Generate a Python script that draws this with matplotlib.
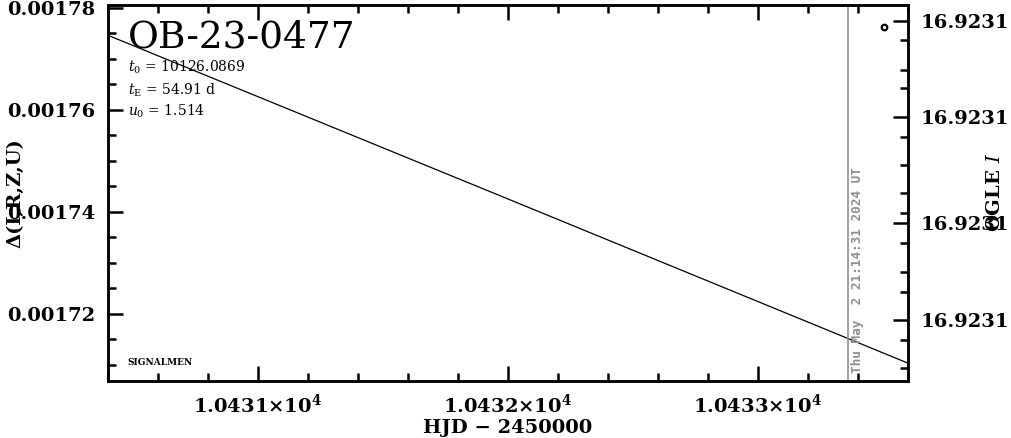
import matplotlib
matplotlib.use("Agg")
import matplotlib.pyplot as plt
from matplotlib.ticker import FixedLocator, FuncFormatter, MultipleLocator

# ---- data ----
model_hjd = [10430.4, 10432.0, 10433.6]
model_delta = [0.0017746, 0.0017425, 0.0017103]
ogle_hjd = [10433.506]
ogle_mag = [16.923056]
now_hjd = 10433.362
now_label = "Thu May  2 21:14:31 2024 UT"
event_name = "OB-23-0477"
t0_text = r"$t_0$ = 10126.0869"
tE_text = r"$t_{\rm E}$ = 54.91 d"
u0_text = r"$u_0$ = 1.514"
xlim = (10430.4, 10433.6)
ylim_left = (0.0017068, 0.0017806)
ylim_right = (16.923150, 16.923050)
right_major = [16.9230543, 16.9230798, 16.9231080, 16.9231338]
right_minor = [16.9230595, 16.9230675, 16.9230723, 16.9230852, 16.9230926,
               16.9231000, 16.9231054, 16.9231133, 16.9231210, 16.9231264,
               16.9231391, 16.9231466]

plt.rcParams['font.family'] = ['DejaVu Serif']
plt.rcParams['mathtext.fontset'] = 'dejavuserif'

fig = plt.figure(figsize=(10.11, 4.38), dpi=100)
ax = fig.add_axes([107.5/1011, 1-381/438, 800.5/1011, 376.5/438])

ax.plot(model_hjd, model_delta, color='black', lw=0.9)
ax.axvline(now_hjd, color='#909090', lw=1.2)
ax.set_xlim(*xlim)
ax.set_ylim(*ylim_left)

for s in ax.spines.values():
    s.set_linewidth(1.8)

ax.xaxis.set_major_locator(MultipleLocator(1.0))
ax.xaxis.set_minor_locator(MultipleLocator(0.2))
ax.yaxis.set_major_locator(MultipleLocator(0.00002))
ax.yaxis.set_minor_locator(MultipleLocator(0.000005))

def xfmt(v, pos):
    return r"$\mathbf{%.4f{\times}10^4}$" % (v / 1e4)

ax.xaxis.set_major_formatter(FuncFormatter(xfmt))
ax.yaxis.set_major_formatter(FuncFormatter(lambda v, p: "%.5f" % v))

ax.tick_params(axis='both', which='major', direction='in', length=11, width=1.8,
               top=True, right=False, labelsize=14, pad=9)
ax.tick_params(axis='both', which='minor', direction='in', length=6, width=1.8,
               top=True, right=False)
for lab in ax.get_yticklabels() + ax.get_xticklabels():
    lab.set_fontweight('bold')

ax.set_xlabel("HJD − 2450000", fontsize=14, fontweight='bold', labelpad=2)
ax.set_ylabel("Δ(I,R,Z,U)", fontsize=14, fontweight='bold')
ax.yaxis.set_label_coords(-0.104, 0.5)

ax2 = ax.twinx()
ax2.set_ylim(*ylim_right)
ax2.plot(ogle_hjd, ogle_mag, 'o', ms=4, mfc='white', mec='black', mew=1.6)
ax2.yaxis.set_major_locator(FixedLocator(right_major))
ax2.yaxis.set_minor_locator(FixedLocator(right_minor))
ax2.yaxis.set_major_formatter(FuncFormatter(lambda v, p: "%.4f" % v))
ax2.tick_params(axis='y', which='major', direction='in', length=11, width=1.8,
                labelsize=14, pad=9)
ax2.tick_params(axis='y', which='minor', direction='in', length=6, width=1.8)
for lab in ax2.get_yticklabels():
    lab.set_fontweight('bold')
for s in ax2.spines.values():
    s.set_linewidth(1.8)
ax2.set_ylabel(r"OGLE $\mathit{I}$", fontsize=14, fontweight='bold', rotation=90)
ax2.yaxis.set_label_coords(1.0975, 0.5)

ax.text(20/800.5, 1-33/376.5, event_name, transform=ax.transAxes, fontsize=27,
        va='center', ha='left')
ax.text(20/800.5, 1-63/376.5, t0_text, transform=ax.transAxes, fontsize=10,
        va='center', ha='left')
ax.text(20/800.5, 1-86/376.5, tE_text, transform=ax.transAxes, fontsize=10,
        va='center', ha='left')
ax.text(20/800.5, 1-107/376.5, u0_text, transform=ax.transAxes, fontsize=10,
        va='center', ha='left')
ax.text(20/800.5, 1-358/376.5, "SIGNALMEN", transform=ax.transAxes, fontsize=6.5,
        va='center', ha='left', fontweight='bold')
ax.text(now_hjd + 0.035, ax.get_ylim()[0] + 0.0000016, now_label, rotation=90,
        color='#909090', fontsize=9.2, fontweight='bold', family='DejaVu Sans Mono',
        va='bottom', ha='center')

fig.savefig("out.png", dpi=100)
